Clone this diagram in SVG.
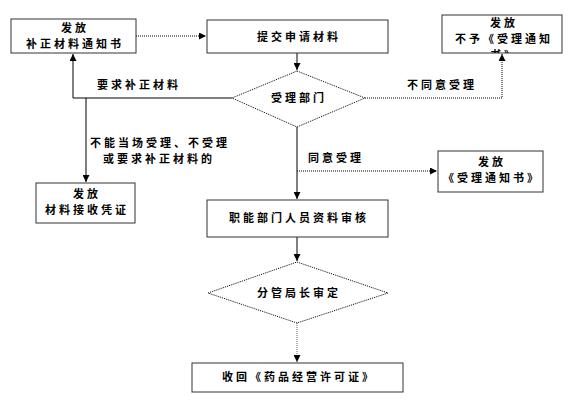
<svg xmlns="http://www.w3.org/2000/svg" width="588" height="405" viewBox="0 0 588 405">
<style>
.bg{fill:#fff}
.box{fill:#fff;stroke:#333;stroke-width:1}
.dia{fill:#fff;stroke:#000;stroke-width:1;stroke-dasharray:1 1}
.t{font-family:"Noto Sans CJK SC","Noto Sans CJK JP",sans-serif;font-size:11px;font-weight:bold;fill:#000;letter-spacing:3px}
.c{text-anchor:middle}
.ln{fill:none;stroke:#000;stroke-width:1}
.dot{fill:none;stroke:#000;stroke-width:1;stroke-dasharray:1 1}
.gdot{fill:none;stroke:#666;stroke-width:1;stroke-dasharray:1 1}
</style>
<defs>
<marker id="ah" viewBox="0 0 10 10" refX="10" refY="5" markerWidth="7" markerHeight="7" orient="auto" markerUnits="userSpaceOnUse">
<path d="M0,0 L10,5 L0,10 z" fill="#000"/>
</marker>
<clipPath id="clip3"><rect x="442" y="15" width="120" height="38"/></clipPath>
</defs>
<rect class="bg" x="0" y="0" width="588" height="405"/>
<g id="connectors">
<path class="dot" d="M136,36 H206" marker-end="url(#ah)"/>
<path class="ln" d="M297,53 V70" marker-end="url(#ah)"/>
<path class="ln" d="M232,98 H73 V54" marker-end="url(#ah)"/>
<path class="ln" d="M86,98 V182" marker-end="url(#ah)"/>
<path class="dot" d="M365,98 H502 V54" marker-end="url(#ah)"/>
<path class="ln" d="M297,127 V199" marker-end="url(#ah)"/>
<path class="dot" d="M297,171 H437" marker-end="url(#ah)"/>
<path class="ln" d="M297,237 V261" marker-end="url(#ah)"/>
<path class="gdot" d="M297,323 V362" marker-end="url(#ah)"/>
<text class="t" x="97" y="89">要求补正材料</text>
<text class="t" x="407" y="89">不同意受理</text>
<text class="t c" x="160" y="147">不能当场受理、不受理</text>
<text class="t c" x="159" y="163">或要求补正材料的</text>
<text class="t" x="308" y="162">同意受理</text>
</g>
<g id="n1">
<rect class="box" x="11" y="19" width="125" height="34"/>
<text class="t c" x="75" y="32">发放</text>
<text class="t c" x="75" y="48">补正材料通知书</text>
</g>
<g id="n2">
<rect class="box" x="207" y="20" width="181" height="33"/>
<text class="t c" x="299" y="41">提交申请材料</text>
</g>
<g id="n3">
<rect class="box" x="442" y="15" width="120" height="38"/>
<g clip-path="url(#clip3)">
<text class="t c" x="504" y="27">发放</text>
<text class="t c" x="504" y="43">不予《受理通知</text>
<text class="t c" x="504" y="59">书》</text>
</g>
</g>
<g id="n4">
<polygon class="dia" points="297,71 365,98 297,127 232,98"/>
<text class="t c" x="299" y="102">受理部门</text>
</g>
<g id="n5">
<rect class="box" x="36" y="183" width="99" height="40"/>
<text class="t c" x="87" y="198">发放</text>
<text class="t c" x="87" y="214">材料接收凭证</text>
</g>
<g id="n6">
<rect class="box" x="438" y="151" width="105" height="41"/>
<text class="t c" x="492" y="166">发放</text>
<text class="t c" x="492" y="182">《受理通知书》</text>
</g>
<g id="n7">
<rect class="box" x="207" y="200" width="181" height="37"/>
<text class="t c" x="299" y="222">职能部门人员资料审核</text>
</g>
<g id="n8">
<polygon class="dia" points="297,262 388,293 297,323 208,293"/>
<text class="t c" x="299" y="297">分管局长审定</text>
</g>
<g id="n9">
<rect class="box" x="192" y="363" width="211" height="29"/>
<text class="t c" x="299" y="381">收回《药品经营许可证》</text>
</g>
</svg>
